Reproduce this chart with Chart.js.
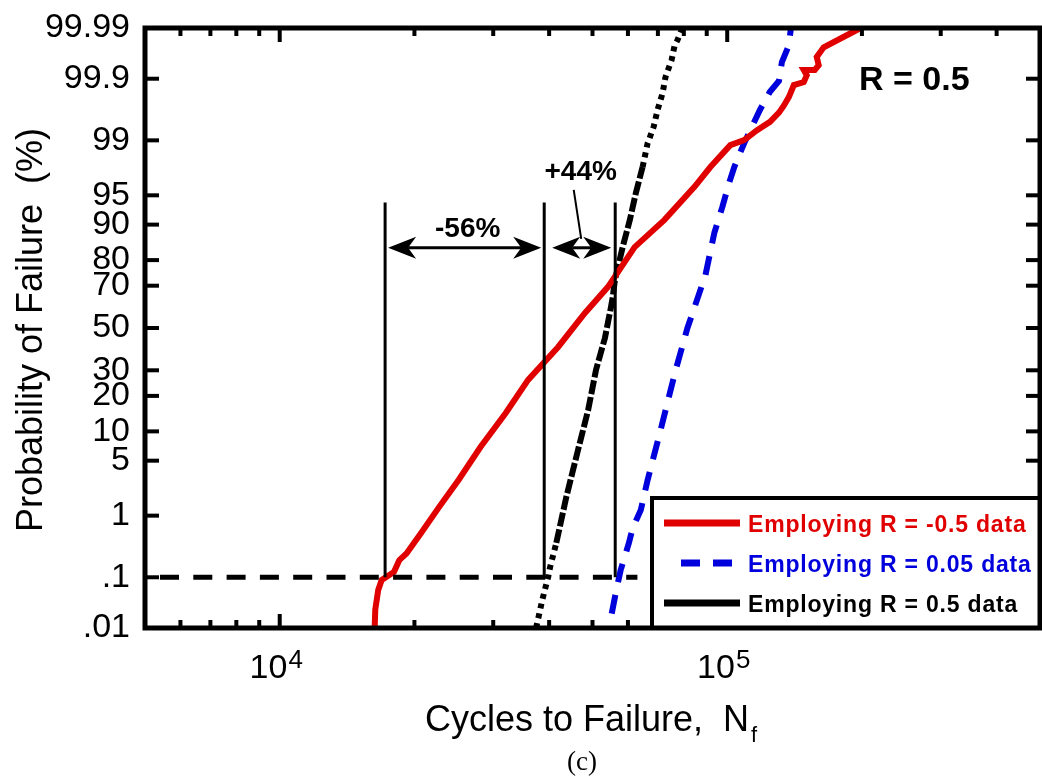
<!DOCTYPE html>
<html>
<head>
<meta charset="utf-8">
<title>Probability of Failure</title>
<script src="https://cdn.jsdelivr.net/npm/chart.js@4.4.1/dist/chart.umd.min.js"></script>
<style>
  html, body { margin: 0; padding: 0; background: #ffffff; }
  canvas { display: block; }
</style>
</head>
<body>
<canvas id="failureChart" width="1042" height="778"></canvas>
<script>
// Cycles to failure (N_f) against cumulative probability of failure (%)
var redCycles = [16300, 16350, 16600, 16900, 17300, 18000, 18500, 19200, 20700, 22700, 25100, 28100,
    32000, 35900, 41900, 48100, 54100, 62100, 72400, 84500, 91700, 101600, 109100, 116600, 124600,
    130500, 133900, 137300, 140900, 148300, 150600, 148300, 156900, 160100, 158500, 164300, 191500, 198500];
var redProb = [0.01, 0.024, 0.058, 0.089, 0.101, 0.124, 0.20, 0.26, 0.55, 1.32, 2.98, 7.0,
    14.6, 26.0, 40.7, 57.4, 69.4, 84.2, 91.0, 96.0, 97.7, 98.83, 99.01, 99.29, 99.47,
    99.62, 99.71, 99.79, 99.87, 99.885, 99.914, 99.931, 99.931, 99.944, 99.961, 99.975, 99.988, 99.99];

var blueCycles = [55200, 56400, 57800, 60300, 61500, 64100, 66400, 70900, 76600, 81500, 89400, 93600,
    97500, 101000, 103700, 109100, 113600, 118400, 124600, 130500, 132500, 137300, 138800];
var blueProb = [0.02, 0.053, 0.135, 0.385, 0.66, 1.2, 2.98, 10.1, 29.7, 50, 74.4, 88.1,
    93.3, 96.4, 97.7, 98.9, 99.37, 99.66, 99.83, 99.89, 99.951, 99.977, 99.99];

var blackCycles = [37400, 38200, 38600, 39800, 40200, 41500, 43700, 46400, 48900, 50900, 53300, 55000,
    55500, 56100, 58400, 60600, 62500, 64700, 66400, 68500, 69900, 71700, 72800, 75100, 76300, 77400, 79400];
var blackProb = [0.01, 0.024, 0.037, 0.101, 0.152, 0.385, 1.81, 6.5, 15.5, 30.1, 45.1, 60.3,
    65.0, 72.4, 84.2, 91.0, 95.3, 97.7, 98.9, 99.37, 99.66, 99.82, 99.907, 99.955, 99.977, 99.982, 99.99];

var seriesLabels = ['Employing R = -0.5 data', 'Employing R = 0.05 data', 'Employing R = 0.5 data'];

// probability axis
var probTicks = [0.01, 0.1, 1, 5, 10, 20, 30, 50, 70, 80, 90, 95, 99, 99.9, 99.99];
var probTickLabels = ['.01', '.1', '1', '5', '10', '20', '30', '50', '70', '80', '90', '95', '99', '99.9', '99.99'];

// cycles axis
var cycleMin = 5000, cycleMax = 500000;
var cycleMajorTicks = [10000, 100000];
var cycleMajorExp = ['4', '5'];
var cycleMinorTicks = [6000, 7000, 8000, 9000, 20000, 30000, 40000, 50000, 60000, 70000, 80000, 90000,
    200000, 300000, 400000];

// life at 0.1 % failure for each series, and the comparison arrows
var refProb = 0.1;
var refLineEndCycles = 63000;
var markerCycles = [17200, 39000, 56200];   // R = -0.5, R = 0.5, R = 0.05
var markerTopProb = 94;
var arrowProb = 84;
var stressRatioText = 'R = 0.5';

var FONT = "'Liberation Sans', Arial, Helvetica, sans-serif";
var RED = '#e00000', BLUE = '#0000dd', BLACK = '#000000';

// inverse of the standard normal CDF (Acklam)
function probit(p) {
    var a = [-3.969683028665376e+01, 2.209460984245205e+02, -2.759285104469687e+02, 1.383577518672690e+02, -3.066479806614716e+01, 2.506628277459239e+00];
    var b = [-5.447609879822406e+01, 1.615858368580409e+02, -1.556989798598866e+02, 6.680131188771972e+01, -1.328068155288572e+01];
    var c = [-7.784894002430293e-03, -3.223964580411365e-01, -2.400758277161838e+00, -2.549732539343734e+00, 4.374664141464968e+00, 2.938163982698783e+00];
    var d = [7.784695709041462e-03, 3.224671290700398e-01, 2.445134137142996e+00, 3.754408661907416e+00];
    var pLow = 0.02425, q, r;
    if (p < pLow) {
        q = Math.sqrt(-2 * Math.log(p));
        return (((((c[0] * q + c[1]) * q + c[2]) * q + c[3]) * q + c[4]) * q + c[5]) / ((((d[0] * q + d[1]) * q + d[2]) * q + d[3]) * q + 1);
    }
    if (p <= 1 - pLow) {
        q = p - 0.5; r = q * q;
        return (((((a[0] * r + a[1]) * r + a[2]) * r + a[3]) * r + a[4]) * r + a[5]) * q / (((((b[0] * r + b[1]) * r + b[2]) * r + b[3]) * r + b[4]) * r + 1);
    }
    q = Math.sqrt(-2 * Math.log(1 - p));
    return -(((((c[0] * q + c[1]) * q + c[2]) * q + c[3]) * q + c[4]) * q + c[5]) / ((((d[0] * q + d[1]) * q + d[2]) * q + d[3]) * q + 1);
}

function toPoints(cycles, prob) {
    return cycles.map(function(n, i) { return { x: n, y: probit(prob[i] / 100) }; });
}

var tailLow = probit(0.005), tailHigh = probit(0.97);

function line(ctx, x1, y1, x2, y2) {
    ctx.beginPath();
    ctx.moveTo(x1, y1);
    ctx.lineTo(x2, y2);
    ctx.stroke();
}

function arrowHead(ctx, x, y, dir) {
    ctx.beginPath();
    ctx.moveTo(x, y);
    ctx.lineTo(x - dir * 28, y - 11);
    ctx.lineTo(x - dir * 20, y);
    ctx.lineTo(x - dir * 28, y + 11);
    ctx.closePath();
    ctx.fill();
}

function doubleArrow(ctx, x1, x2, y) {
    ctx.lineWidth = 3;
    line(ctx, x1 + 20, y, x2 - 20, y);
    arrowHead(ctx, x1, y, -1);
    arrowHead(ctx, x2, y, 1);
}

function percentChange(from, to) {
    var v = Math.round((to - from) / from * 100);
    return (v > 0 ? '+' : '') + v + '%';
}

// keep the plot box fixed: no extra room for overhanging tick labels
function noScalePadding(scale) {
    scale.paddingTop = 0;
    scale.paddingBottom = 0;
    scale.paddingLeft = 0;
    scale.paddingRight = 0;
}

var decorPlugin = {
    id: 'probPaperDecor',
    afterDatasetsDraw: function(chart) {
        var ctx = chart.ctx, area = chart.chartArea;
        var xs = chart.scales.x, ys = chart.scales.y;
        var px = function(n) { return xs.getPixelForValue(n); };
        var py = function(p) { return ys.getPixelForValue(probit(p / 100)); };
        var ds = chart.data.datasets;
        var mx = markerCycles.map(px);
        var yRef = py(refProb), yTop = py(markerTopProb), yArrow = py(arrowProb);

        ctx.save();
        ctx.strokeStyle = BLACK;
        ctx.fillStyle = BLACK;

        // 0.1 % level
        ctx.lineWidth = 5;
        ctx.setLineDash([19, 14.3]);
        ctx.lineDashOffset = -15;
        line(ctx, area.left, yRef, px(refLineEndCycles), yRef);
        ctx.setLineDash([]);
        ctx.lineDashOffset = 0;

        // life markers
        ctx.lineWidth = 3;
        mx.forEach(function(x) { line(ctx, x, yRef, x, yTop); });

        // comparison arrows and labels
        doubleArrow(ctx, mx[0] + 3, mx[1] - 3, yArrow);
        doubleArrow(ctx, mx[1] + 8, mx[2] - 4, yArrow);

        ctx.font = 'bold 28px ' + FONT;
        ctx.textAlign = 'center';
        ctx.textBaseline = 'alphabetic';
        var mid1 = (mx[0] + mx[1]) / 2, mid2 = (mx[1] + mx[2]) / 2;
        ctx.fillText(percentChange(markerCycles[1], markerCycles[0]), mid1 + 3, yArrow - 11);
        ctx.fillText(percentChange(markerCycles[1], markerCycles[2]), mid2 + 1, yArrow - 68);
        ctx.lineWidth = 2;
        line(ctx, mid2 - 6, yArrow - 58, mid2 + 1.5, yArrow - 9);

        // inward ticks
        ctx.lineWidth = 4;
        probTicks.forEach(function(p, i) {
            if (i === 0 || i === probTicks.length - 1) return;
            var y = py(p);
            line(ctx, area.left, y, area.left + 14, y);
            line(ctx, area.right - 14, y, area.right, y);
        });
        cycleMinorTicks.forEach(function(n) {
            var x = px(n);
            line(ctx, x, area.bottom, x, area.bottom - 8);
            line(ctx, x, area.top, x, area.top + 8);
        });
        cycleMajorTicks.forEach(function(n) {
            var x = px(n);
            line(ctx, x, area.bottom, x, area.bottom - 14);
            line(ctx, x, area.top, x, area.top + 14);
        });

        // R annotation
        ctx.font = 'bold 34px ' + FONT;
        ctx.textAlign = 'left';
        ctx.fillText(stressRatioText, area.right - 181, area.top + 62);

        // legend
        var lx = area.right - 388, ly = area.bottom - 130;
        ctx.fillStyle = '#ffffff';
        ctx.fillRect(lx, ly, area.right - lx, area.bottom - ly);
        ctx.lineWidth = 4;
        ctx.strokeStyle = BLACK;
        ctx.strokeRect(lx, ly, area.right - lx, area.bottom - ly);
        ctx.font = 'bold 23px ' + FONT;
        if ('letterSpacing' in ctx) ctx.letterSpacing = '0.8px';
        ds.forEach(function(d, i) {
            var y = ly + 25 + i * 40;
            ctx.strokeStyle = d.borderColor;
            ctx.lineWidth = 7;
            if (d.borderDash) {
                ctx.setLineDash(d.borderDash);
                line(ctx, lx + 29, y, lx + 85, y);
                ctx.setLineDash([]);
            } else {
                line(ctx, lx + 12, y, lx + 88, y);
            }
            ctx.fillStyle = d.borderColor;
            ctx.fillText(d.label, lx + 96, y + 9);
        });
        if ('letterSpacing' in ctx) ctx.letterSpacing = '0px';

        // frame
        ctx.strokeStyle = BLACK;
        ctx.fillStyle = BLACK;
        ctx.lineWidth = 5;
        ctx.strokeRect(area.left, area.top, area.right - area.left, area.bottom - area.top);

        // cycles axis labels (10^n)
        cycleMajorTicks.forEach(function(n, i) {
            var x = px(n);
            ctx.font = '34px ' + FONT;
            var w = ctx.measureText('10').width;
            ctx.font = '26px ' + FONT;
            var w2 = ctx.measureText(cycleMajorExp[i]).width;
            var x0 = x - (w + w2) / 2 - 4;
            ctx.font = '34px ' + FONT;
            ctx.fillText('10', x0, area.bottom + 50);
            ctx.font = '26px ' + FONT;
            ctx.fillText(cycleMajorExp[i], x0 + w + 1, area.bottom + 40);
        });

        // axis titles
        ctx.font = '36px ' + FONT;
        ctx.textAlign = 'left';
        var title = 'Cycles to Failure,  N';
        ctx.fillText(title, 425, area.bottom + 103);
        var tw = ctx.measureText(title).width;
        ctx.font = '22px ' + FONT;
        ctx.fillText('f', 425 + tw + 2, area.bottom + 114);

        ctx.save();
        ctx.translate(42, (area.top + area.bottom) / 2 + 2);
        ctx.rotate(-Math.PI / 2);
        ctx.font = '36px ' + FONT;
        ctx.textAlign = 'center';
        ctx.fillText('Probability of Failure  (%)', 0, 0);
        ctx.restore();

        ctx.font = "27px 'Liberation Serif', 'Times New Roman', serif";
        ctx.textAlign = 'center';
        ctx.fillText('(c)', 582, area.bottom + 142);

        ctx.restore();
    }
};

var ctx = document.getElementById('failureChart').getContext('2d');
var chart = new Chart(ctx, {
    type: 'line',
    data: {
        datasets: [{
            label: seriesLabels[0],
            data: toPoints(redCycles, redProb),
            borderColor: RED,
            borderWidth: 6,
            pointRadius: 0,
            fill: false,
            tension: 0,
            clip: 0
        }, {
            label: seriesLabels[1],
            data: toPoints(blueCycles, blueProb),
            borderColor: BLUE,
            borderWidth: 6,
            borderDash: [19, 13],
            pointRadius: 0,
            fill: false,
            tension: 0,
            clip: 0
        }, {
            label: seriesLabels[2],
            data: toPoints(blackCycles, blackProb),
            borderColor: BLACK,
            borderWidth: 6,
            pointRadius: 0,
            fill: false,
            tension: 0,
            clip: 0,
            segment: {
                borderDash: function(c) {
                    return (c.p1.parsed.y < tailLow || c.p0.parsed.y > tailHigh) ? [5, 5] : [14, 3];
                }
            }
        }]
    },
    options: {
        responsive: false,
        devicePixelRatio: 1,
        animation: false,
        events: [],
        layout: { autoPadding: false, padding: { top: 28, right: 2, left: 0, bottom: 0 } },
        plugins: {
            legend: { display: false },
            tooltip: { enabled: false }
        },
        scales: {
            x: {
                type: 'logarithmic',
                min: cycleMin,
                max: cycleMax,
                grid: { display: false, drawTicks: false },
                border: { display: false },
                ticks: { display: false },
                afterFit: function(scale) {
                    scale.height = 150;
                    noScalePadding(scale);
                }
            },
            y: {
                type: 'linear',
                min: probit(probTicks[0] / 100),
                max: probit(probTicks[probTicks.length - 1] / 100),
                grid: { display: false, drawTicks: false },
                border: { display: false },
                afterBuildTicks: function(scale) {
                    scale.ticks = probTicks.map(function(p) { return { value: probit(p / 100) }; });
                },
                ticks: {
                    autoSkip: false,
                    padding: 15,
                    color: BLACK,
                    font: { family: FONT, size: 34 },
                    callback: function(value, index) { return probTickLabels[index]; }
                },
                afterFit: function(scale) {
                    scale.width = 145;
                    noScalePadding(scale);
                }
            }
        }
    },
    plugins: [decorPlugin]
});
</script>
</body>
</html>
